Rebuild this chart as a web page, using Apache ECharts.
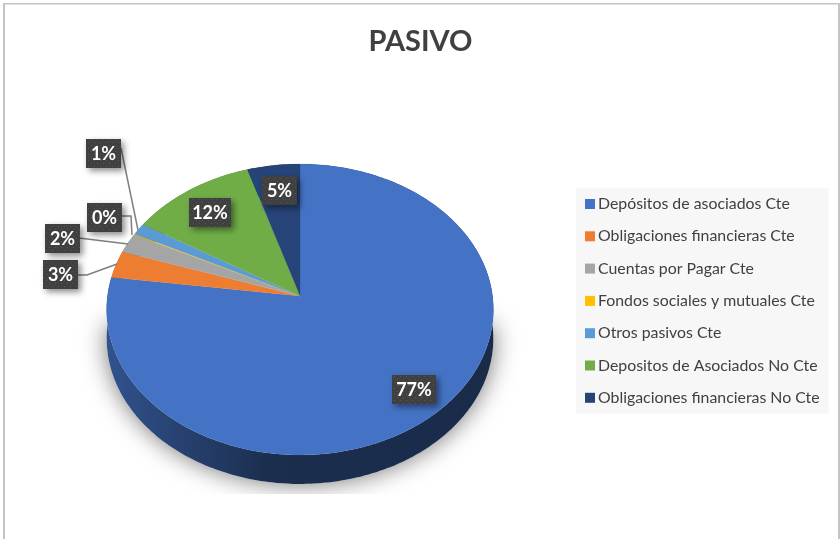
<!DOCTYPE html>
<html><head><meta charset="utf-8">
<style>html,body{margin:0;padding:0;background:#fff}#c{width:840px;height:539px}</style>
<script src="https://cdn.jsdelivr.net/npm/echarts@6/dist/echarts.min.js"></script>
</head><body><div id="c"></div>
<script>
const categories = ['Depósitos de asociados Cte','Obligaciones financieras Cte','Cuentas por Pagar Cte','Fondos sociales y mutuales Cte','Otros pasivos Cte','Depositos de Asociados No Cte','Obligaciones financieras No Cte'];
const values = [77.1,3.0,2.2,0.1,1.3,11.5,4.8];
const colors = ['#4472c4','#ed7d31','#a5a5a5','#ffc000','#5b9bd5','#70ad47','#264478'];
const labelBoxes = [[392,375,44],[43,260,35],[45,224,35],[87,203,35],[86,139,35],[189,198,42],[262,176,35]];
const leaders = [null,[[77,275],[87,275],[117,264]],[[79,238],[128,244]],[[122,216],[131,216],[132,235]],[[121,148],[138,230]],null,null];

const total = values.reduce((a,b)=>a+b,0);
const CX=300, CY=296, A=192.5, B=144.2, K=0.0928, DEPTH=29;
function proj(a){const u=Math.sin(a),v=Math.cos(a),d=1+K*v;return [CX+A*u/d,CY-B*v/d];}
function arc(a0,a1,dy){const n=Math.max(2,Math.ceil((a1-a0)/0.02));const p=[];for(let i=0;i<=n;i++){const q=proj(a0+(a1-a0)*i/n);p.push([q[0],q[1]+(dy||0)]);}return p;}
function angles(i){let s=0;for(let j=0;j<i;j++)s+=values[j];return [s/total*2*Math.PI,(s+values[i])/total*2*Math.PI];}
function shade(hex,f){const n=parseInt(hex.slice(1),16);return 'rgb('+[(n>>16)&255,(n>>8)&255,n&255].map(c=>Math.round(c*f)).join(',')+')';}

const pc=document.createElement('canvas');pc.width=6;pc.height=6;
const g=pc.getContext('2d');g.fillStyle='#404040';g.fillRect(0,0,6,6);g.fillStyle='#575757';g.fillRect(1,1,1,1);g.fillRect(4,4,1,1);
const pattern={image:pc,repeat:'repeat'};

function wall(i){
  const [a0,a1]=angles(i);
  const top=arc(a0,a1,0),bot=arc(a0,a1,DEPTH).reverse();
  return {type:'polygon',shape:{points:top.concat(bot)},z2:1,style:{fill:{type:'linear',x:107,y:0,x2:494,y2:0,global:true,colorStops:[
    {offset:0,color:shade(colors[i],0.72)},{offset:0.42,color:shade(colors[i],0.4)},{offset:1,color:shade(colors[i],0.38)}]}}};
}
function face(i){
  const [a0,a1]=angles(i);
  return {type:'polygon',shape:{points:[[CX,CY]].concat(arc(a0,a1,0))},z2:2,style:{fill:colors[i],stroke:colors[i],lineWidth:0.2}};
}
function labelEls(i){
  const b=labelBoxes[i],els=[];
  if(leaders[i])els.push({type:'polyline',shape:{points:leaders[i]},z2:5,style:{fill:null,stroke:'#7f7f7f',lineWidth:1.5}});
  els.push({type:'rect',shape:{x:b[0],y:b[1],width:b[2],height:29},z2:6,style:{fill:pattern,shadowBlur:6,shadowOffsetX:3,shadowOffsetY:3,shadowColor:'rgba(0,0,0,0.45)'}});
  els.push({type:'text',x:b[0]+b[2]/2,y:b[1]+15.5,z2:7,style:{text:Math.round(values[i]/total*100)+'%',fill:'#fff',font:'bold 18px Lato',align:'center',verticalAlign:'middle'}});
  return els;
}
const series=[{
  type:'custom',coordinateSystem:'none',silent:true,z:1,data:[0],
  renderItem(){
    const half=arc(Math.PI/2,3*Math.PI/2,DEPTH);
    return {type:'group',children:[
      {type:'polygon',shape:{points:half},style:{fill:'#fff',shadowBlur:24,shadowColor:'rgba(0,0,0,0.55)'}},
      {type:'rect',shape:{x:80,y:494,width:440,height:40},style:{fill:'#fff'}}
    ]};
  }
}];
categories.forEach((name,i)=>series.push({
  type:'custom',name,coordinateSystem:'none',silent:true,z:2,itemStyle:{color:colors[i]},data:[values[i]],
  renderItem(){return {type:'group',children:[wall(i),face(i)]};}
}));
series.push({type:'custom',coordinateSystem:'none',silent:true,z:3,data:[0],
  renderItem(){let c=[];categories.forEach((n,i)=>{c=c.concat(labelEls(i));});return {type:'group',children:c};}});

const chart=echarts.init(document.getElementById('c'),null,{renderer:'canvas'});
chart.setOption({
  animation:false,backgroundColor:'#fff',
  title:{text:'PASIVO',left:415.5,top:22,textAlign:'center',textStyle:{fontFamily:'Lato',fontSize:29,fontWeight:'bold',color:'#404040'}},
  legend:{orient:'vertical',left:576,top:188,padding:[8,9,8,9],itemWidth:10,itemHeight:10,itemGap:16.3,icon:'rect',selectedMode:false,
    backgroundColor:'#f7f7f7',data:categories,textStyle:{fontFamily:'Lato',fontSize:15.85,color:'#404040',padding:[0,0,0,-2]}},
  tooltip:{show:false},
  series,
  graphic:[
    {type:'rect',shape:{x:3,y:3,width:2,height:536},style:{fill:'#c4c4c4'}},
    {type:'rect',shape:{x:3,y:3,width:837,height:1.5},style:{fill:'#c4c4c4'}},
    {type:'rect',shape:{x:838,y:3,width:2,height:536},style:{fill:'#c4c4c4'}}
  ]
});
</script></body></html>
